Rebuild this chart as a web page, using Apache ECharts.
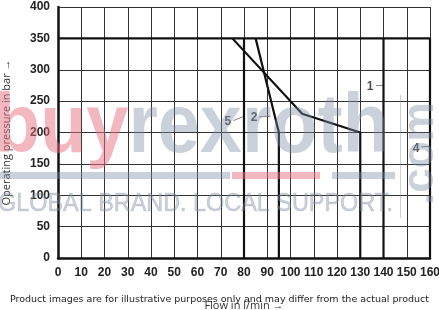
<!DOCTYPE html>
<html>
<head>
<meta charset="utf-8">
<script src="https://cdn.jsdelivr.net/npm/echarts@6/dist/echarts.min.js"></script>
<style>
html,body{margin:0;padding:0;background:#fff;}
#c{width:439px;height:310px;}
</style>
</head>
<body>
<div id="c"></div>
<script>
// ---- data ----
const xTicks = [0,10,20,30,40,50,60,70,80,90,100,110,120,130,140,150,160];
const yTicks = [0,50,100,150,200,250,300,350,400];
const limitLine = [[0,350],[160,350]];
const curve1 = [[140,0],[140,350]];
const curve2 = [[85,350],[95,200],[95,0]];
const curve3 = [[75,350],[105,230],[130,200],[130,0]];
const curve4 = [[160,0],[160,350]];
const curve5 = [[80,0],[80,350]];
const labelNames = ['1','2','4','5'];
const labelPos = [[134.2,272.5],[84.3,223],[154,175],[73.1,218]];
const leaderLines = [
  [[136.8,275],[139.8,275]],
  [[86.6,225],[91.4,226]],
  [[156.2,177],[160,178]],
  [[75.4,219],[79.6,225]]
];
const xName = 'Flow in l/min \u2192';
const yName = 'Operating pressure in bar \u2192';
const disclaimer = 'Product images are for illustrative purposes only and may differ from the actual product';

const chart = echarts.init(document.getElementById('c'), null, {renderer:'canvas'});
const thick = {color:'#111', width:2.2};
function lineSeries(d){
  return {type:'line', data:d, symbol:'none', lineStyle:thick, z:5, silent:true, animation:false};
}
const tickFont = {fontFamily:'Liberation Sans', fontWeight:'bold', fontSize:12, color:'#222'};
const pink = 'rgba(231,111,129,0.5)';
const gray = 'rgba(125,140,162,0.4)';
chart.setOption({
  animation:false,
  grid:{left:58, right:9, top:7, bottom:52, outerBoundsMode:'none', containLabel:false},
  xAxis:{
    type:'value', min:0, max:160, interval:10,
    axisLine:{show:true, lineStyle:{color:'#111', width:2.5}},
    axisTick:{show:false},
    axisLabel:Object.assign({margin:9, formatter:v=>xTicks.includes(v)?String(v):''}, tickFont),
    splitLine:{show:true, lineStyle:{color:'#333', width:1}},
    name:xName, nameLocation:'middle', nameGap:42,
    nameTextStyle:{fontFamily:'Open Sans', fontSize:11, color:'#333'}
  },
  yAxis:{
    type:'value', min:0, max:400, interval:50,
    axisLine:{show:true, lineStyle:{color:'#111', width:2.5}},
    axisTick:{show:false},
    axisLabel:Object.assign({margin:8, formatter:v=>yTicks.includes(v)?String(v):''}, tickFont),
    splitLine:{show:true, lineStyle:{color:'#333', width:1}},
    name:yName, nameLocation:'middle', nameGap:46,
    nameTextStyle:{fontFamily:'Open Sans', fontSize:11, color:'#333'}
  },
  graphic:[
    {type:'text', z:50, silent:true, x:-6, y:87, scaleX:0.9, style:{
        text:'{a|buy}{b|rexroth}', verticalAlign:'top',
        rich:{
          a:{fontFamily:'Liberation Sans', fontWeight:'bold', fontSize:84, fill:pink},
          b:{fontFamily:'Liberation Sans', fontWeight:'bold', fontSize:84, fill:gray}
        }
    }},
    {type:'rect', z:50, silent:true, shape:{x:0,y:172,width:230,height:7}, style:{fill:gray}},
    {type:'rect', z:50, silent:true, shape:{x:232,y:172,width:88,height:7}, style:{fill:pink}},
    {type:'rect', z:50, silent:true, shape:{x:332,y:172,width:63,height:7}, style:{fill:gray}},
    {type:'text', z:50, silent:true, x:-2, y:191, scaleX:0.9, style:{text:'GLOBAL BRAND. LOCAL SUPPORT.', verticalAlign:'top', fontFamily:'Liberation Sans', fontSize:26, fill:gray, stroke:gray, lineWidth:0.6}},
    {type:'rect', z:50, silent:true, shape:{x:400,y:95,width:1,height:123}, style:{fill:gray}},
    {type:'text', z:50, silent:true, x:399, y:205, rotation:Math.PI/2, style:{text:'.com', verticalAlign:'top', fontFamily:'Liberation Sans', fontWeight:'bold', fontSize:44, fill:gray}},
    {type:'text', left:'center', top:295, z:100, style:{text:disclaimer, fontFamily:'DejaVu Sans', fontSize:9.5, fill:'#222'}}
  ],
  series:[
    lineSeries(limitLine),
    lineSeries(curve1),
    lineSeries(curve2),
    lineSeries(curve3),
    lineSeries(curve4),
    lineSeries(curve5),
    {type:'lines', coordinateSystem:'cartesian2d', silent:true, z:4,
     lineStyle:{color:'#666', width:0.8, opacity:1},
     data:leaderLines.map(c=>({coords:c}))},
    {type:'scatter', symbolSize:0, silent:true, z:6,
     data:labelNames.map((n,i)=>({name:n, value:labelPos[i]})),
     label:{show:true, position:'inside', formatter:p=>p.name, fontFamily:'Liberation Sans', fontWeight:'bold', fontSize:12, color:'#222'}}
  ]
});
</script>
</body>
</html>
